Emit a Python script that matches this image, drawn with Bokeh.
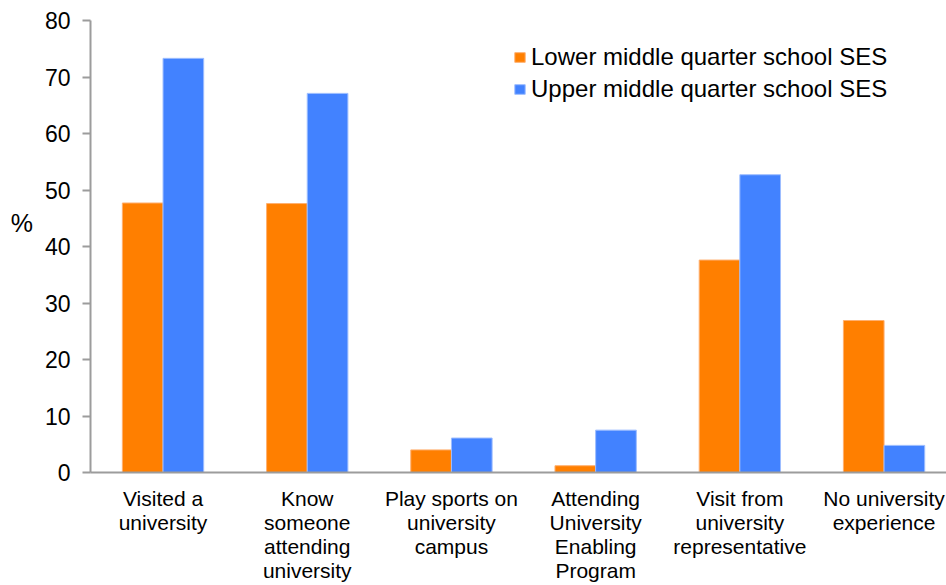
from bokeh.plotting import figure
from bokeh.models import Range1d, FixedTicker
from bokeh.embed import file_html
from bokeh.resources import INLINE

# Survey categories (multi-line labels for the x axis)
categories = [
    "Visited a\nuniversity",
    "Know\nsomeone\nattending\nuniversity",
    "Play sports on\nuniversity\ncampus",
    "Attending\nUniversity\nEnabling\nProgram",
    "Visit from\nuniversity\nrepresentative",
    "No university\nexperience",
]
series_names = ["Lower middle quarter school SES", "Upper middle quarter school SES"]
lower_middle = [47.7, 47.6, 4.0, 1.2, 37.6, 26.9]
upper_middle = [73.3, 67.1, 6.1, 7.5, 52.7, 4.8]
y_ticks = [0, 10, 20, 30, 40, 50, 60, 70, 80]

FONT = "Liberation Sans"
ORANGE = "#FF7F00"
BLUE = "#4282FF"
AXIS_GREY = "#9c9c9c"

positions = list(range(len(categories)))
bar_w = 0.282

p = figure(
    width=946, height=585,
    x_range=Range1d(-0.503, 5.433), y_range=Range1d(0, 80),
    output_backend="svg", toolbar_location=None,
    min_border_left=90, min_border_right=0, min_border_top=20, min_border_bottom=113,
)
p.outline_line_color = None
p.background_fill_color = "white"
p.border_fill_color = "white"
p.xgrid.grid_line_color = None
p.ygrid.grid_line_color = None

p.vbar(x=[i - bar_w / 2 for i in positions], top=lower_middle, width=bar_w,
       fill_color=ORANGE, line_color="#FFB070", line_width=1, legend_label=series_names[0])
p.vbar(x=[i + bar_w / 2 for i in positions], top=upper_middle, width=bar_w,
       fill_color=BLUE, line_color="#9DBDFF", line_width=1, legend_label=series_names[1])

# y axis, with a horizontal "%" unit label raised a little above the middle
# (the empty second line lifts it)
ya = p.yaxis[0]
ya.ticker = FixedTicker(ticks=y_ticks)
ya.axis_line_color = AXIS_GREY
ya.axis_line_width = 2
ya.major_tick_line_color = AXIS_GREY
ya.major_tick_line_width = 2
ya.major_tick_out = 8
ya.major_tick_in = 0
ya.minor_tick_line_color = None
ya.major_label_standoff = 12
ya.major_label_text_font = FONT
ya.major_label_text_font_size = "23px"
ya.major_label_text_color = "black"
ya.axis_label = "%\n"
ya.axis_label_orientation = "horizontal"
ya.axis_label_standoff = 9
ya.axis_label_text_font = FONT
ya.axis_label_text_font_size = "25px"
ya.axis_label_text_font_style = "normal"
ya.axis_label_text_line_height = 1.68
ya.axis_label_text_color = "black"

# x axis with category names
xa = p.xaxis[0]
xa.ticker = FixedTicker(ticks=positions)
xa.major_label_overrides = {i: c for i, c in zip(positions, categories)}
xa.axis_line_color = AXIS_GREY
xa.axis_line_width = 2
xa.major_tick_line_color = None
xa.major_tick_out = 0
xa.major_tick_in = 0
xa.minor_tick_line_color = None
xa.major_label_standoff = 14
xa.major_label_text_font = FONT
xa.major_label_text_font_size = "21px"
xa.major_label_text_line_height = 1.05
xa.major_label_text_color = "black"

lg = p.legend[0]
lg.location = (423, 368)
lg.border_line_color = None
lg.background_fill_alpha = 0
lg.padding = 0
lg.margin = 0
lg.spacing = 2
lg.glyph_width = 13
lg.glyph_height = 12
lg.label_standoff = 5
lg.label_height = 30
lg.label_text_font = FONT
lg.label_text_font_size = "24px"
lg.label_text_color = "black"

open("out.html", "w").write(file_html(p, INLINE))
